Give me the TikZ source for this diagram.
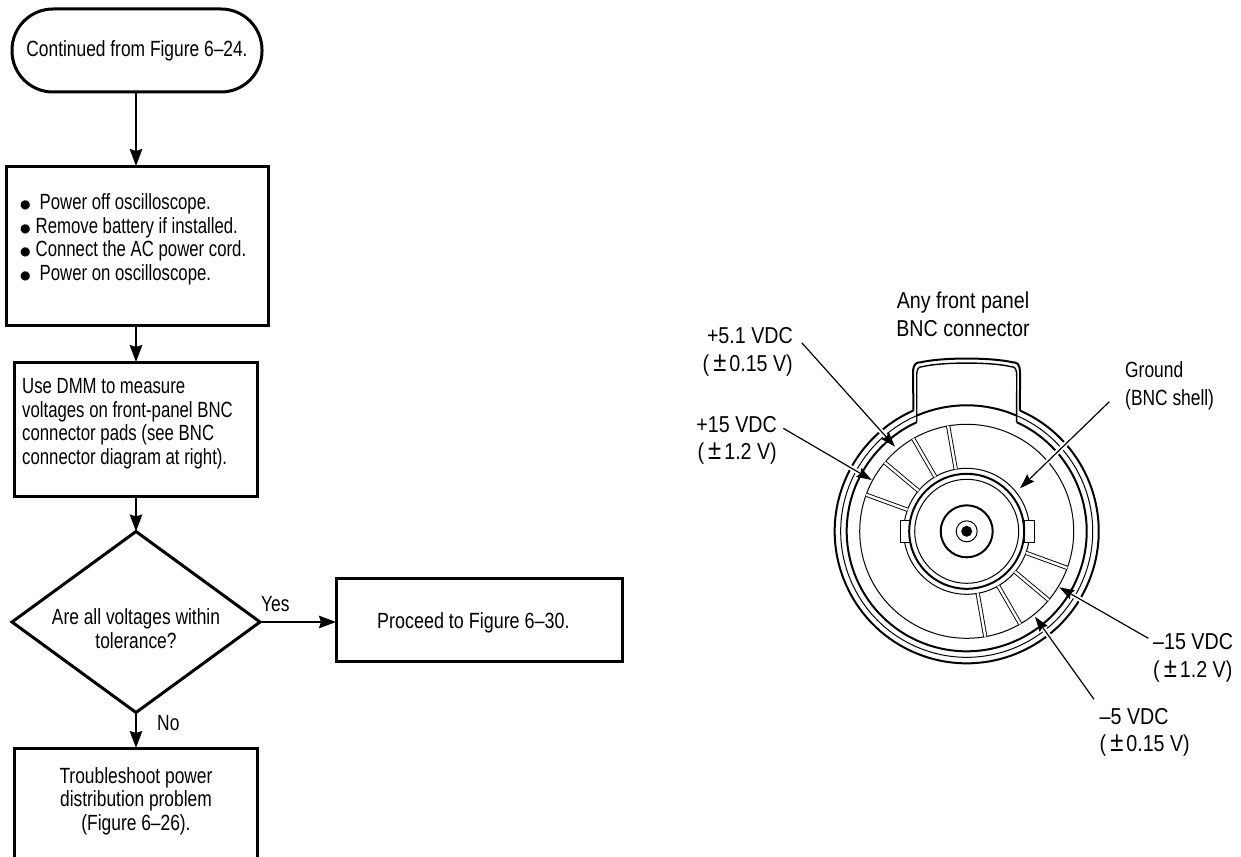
\documentclass[tikz,border=0pt]{standalone}
\usepackage{fontspec}
\setmainfont[FakeStretch=0.79]{Liberation Sans}
\newfontfamily\tagfam[FakeStretch=0.855]{Liberation Sans}
\newfontfamily\boxfam[FakeStretch=0.762]{Liberation Sans}
\newfontfamily\procfam[FakeStretch=0.815]{Liberation Sans}
\newfontfamily\bulfam{DejaVu Sans}
\usetikzlibrary{arrows.meta,shapes.geometric}
\newcommand{\lblfont}{\fontsize{22}{23.5}\selectfont}
\newcommand{\boxfont}{\boxfam\fontsize{22}{23.5}\selectfont}
\newcommand{\procfont}{\procfam\fontsize{22}{23.5}\selectfont}
\newcommand{\tagfont}{\tagfam\fontsize{23}{27.5}\selectfont}
\newcommand{\gndfont}{\fontsize{22}{27.5}\selectfont}
\newcommand{\pmg}{\hspace{4pt}{\fontsize{28}{27.5}\selectfont ±}\hspace{3pt}}
\newcommand{\bul}{\raisebox{1pt}{\bulfam\fontsize{12}{12}\selectfont ●}}
\tikzset{
  flowbox/.style={draw,line width=3pt,rectangle,inner sep=0pt,outer sep=0pt,font=\lblfont},
  flowarrow/.style={line width=2.2pt,-{Stealth[length=17pt,width=12.5pt,inset=2pt]}},
  flowlabel/.style={font=\lblfont,inner sep=0pt,align=center},
  taglabel/.style={font=\tagfont,inner sep=0pt},
  halo/.style={draw=white,line width=5pt,shorten >=9pt},
  tagarrow/.style={line width=1.2pt,-{Stealth[length=15pt,width=10pt,inset=2pt]}},
  thinring/.style={line width=1pt},
  thickring/.style={line width=2pt},
  pad/.style={line width=0.9pt,double=white,double distance=2.4pt},
}
\begin{document}
\begin{tikzpicture}[x=1pt,y=-1pt,line join=miter]
\useasboundingbox (0,0) rectangle (1241,856);
\clip (0,0) rectangle (1241,856);

% flow chart
\node[flowbox,rounded corners=41pt,minimum width=250pt,minimum height=83pt] (start) at (137,50.5) {\raisebox{-1pt}{Continued from Figure 6–24.}};
\node[flowbox,minimum width=262pt,minimum height=159pt] (power) at (137,245.5) {};
\node[flowlabel,font=\boxfont,align=left,anchor=base west] (powertext) at (20,280)
  {\bul\hspace{9pt}Power off oscilloscope.\\
   \bul\hspace{5pt}Remove battery if installed.\\
   \bul\hspace{5pt}Connect the AC power cord.\\
   \bul\hspace{9pt}Power on oscilloscope.};
\node[flowbox,minimum width=243pt,minimum height=134pt] (measure) at (135.5,429) {};
\node[flowlabel,font=\boxfont,align=left,anchor=base west] (measuretext) at (22,464)
  {Use DMM to measure\\voltages on front-panel BNC\\connector pads (see BNC\\connector diagram at right).};
\node[draw,line width=3pt,diamond,inner sep=0pt,outer sep=0pt,minimum width=248pt,minimum height=181pt,aspect=1.37] (check) at (136,622) {};
\node[flowlabel,anchor=base] (checktext) at (136,648) {Are all voltages within\\tolerance?};
\node[flowbox,minimum width=286pt,minimum height=83pt] (proceed) at (479,619.5) {};
\node[flowlabel,font=\procfont,anchor=base west] (proceedtext) at (377,628) {Proceed to Figure 6–30.};
\node[flowbox,minimum width=243pt,minimum height=120pt] (trouble) at (135.5,808) {};
\node[flowlabel,anchor=base] (troubletext) at (136,830) {Troubleshoot power\\distribution problem\\(Figure 6–26).};

\draw[flowarrow] (start.south -| 136,0) -- (power.north -| 136,0);
\draw[flowarrow] (power.south -| 136,0) -- (measure.north -| 136,0);
\draw[flowarrow] (measure.south -| 136,0) -- (check.north);
\draw[flowarrow] (check.south) -- (trouble.north -| 136,0);
\draw[flowarrow] (check.east) -- (proceed.west |- check.east);
\node[flowlabel,anchor=base west] (yes) at (261,611.7) {Yes};
\node[flowlabel,anchor=base west] (no) at (157,730.7) {No};

% BNC connector
\begin{scope}[shift={(966.7,531.3)}]
  % tab
  \draw[thickring] (113.8:132pt) -- (-53.7pt,158pt) .. controls (-53.7pt,168pt) and (-50pt,169pt) .. (-46pt,169pt)
     .. controls (-25pt,174pt) and (25pt,174pt) .. (46pt,169pt)
     .. controls (50pt,169pt) and (53.3pt,168pt) .. (53.3pt,158pt) -- (66.2:132pt);
  \draw[line width=1.4pt] (114.6:120pt) -- (-50pt,155pt) .. controls (-50pt,163pt) and (-48pt,164.5pt) .. (-45pt,164.5pt)
     .. controls (-25pt,169.5pt) and (25pt,169.5pt) .. (45pt,164.5pt)
     .. controls (48pt,164.5pt) and (50pt,163pt) .. (50pt,155pt) -- (65.4:120pt);
  % outer rings
  \draw[thickring] (66.2:132pt) arc[start angle=66.2,end angle=-246.2,radius=132pt];
  \draw[thickring] (65.4:120pt) arc[start angle=65.4,end angle=-245.4,radius=120pt];
  \draw[thinring] (66.7:126pt) arc[start angle=66.7,end angle=-246.7,radius=126pt];
  \draw[thickring] (66.7:126pt) arc[start angle=66.7,end angle=113.3,radius=126pt];
  % pad ring
  \draw[thinring] (0,0) circle[radius=107pt];
  \draw[thinring] (0,0) circle[radius=63pt];
  \foreach \a in {160,140,120,100,-20,-40,-60,-80}
    \draw[pad] (\a:63pt) -- (\a:107pt);
  % side lugs
  \draw[thinring,fill=white] (-66.7pt,-10.8pt) rectangle (-57pt,10.8pt);
  \draw[thinring,fill=white] (67.3pt,-10.8pt) rectangle (58pt,10.8pt);
  % centre
  \draw[thinring] (0,0) circle[radius=52pt];
  \draw[thickring] (0,0) circle[radius=57.5pt];
  \draw[thickring] (0,0) circle[radius=26pt];
  \draw[thinring] (0,0) circle[radius=10.5pt];
  \fill (0,0) circle[radius=5.5pt];
\end{scope}

% labels
\node[taglabel,align=center,anchor=base] (anypanel) at (963,336) {Any front panel\\BNC connector};
\node[taglabel,align=right,anchor=base east] (p51) at (793,371) {+5.1 VDC\\(\pmg0.15 V)};
\node[taglabel,align=right,anchor=base east] (p15) at (777,459.5) {+15 VDC\\(\pmg1.2 V)};
\node[taglabel,font=\gndfont,align=left,anchor=base west] (gnd) at (1125,405) {Ground\\(BNC shell)};
\node[taglabel,align=left,anchor=base west] (m15) at (1153,677) {–15 VDC\\(\pmg1.2 V)};
\node[taglabel,align=left,anchor=base west] (m5) at (1099.5,751.5) {–5 VDC\\(\pmg0.15 V)};

% connector ends
\coordinate (p51s) at (801.7,342.7); \coordinate (p51t) at (895,446.7);
\coordinate (p15s) at (783.3,428.3); \coordinate (p15t) at (871.7,480);
\coordinate (gnds) at (1109.3,401.7); \coordinate (gndt) at (1020,488.3);
\coordinate (m15s) at (1148.3,638.3); \coordinate (m15t) at (1059.3,587.3);
\coordinate (m5s) at (1094,699.3); \coordinate (m5t) at (1035,616.7);
\foreach \s/\t in {p51s/p51t,p15s/p15t,gnds/gndt,m15s/m15t,m5s/m5t}{
  \draw[halo] (\s) -- (\t);
  \draw[tagarrow] (\s) -- (\t);
}
\end{tikzpicture}
\end{document}
